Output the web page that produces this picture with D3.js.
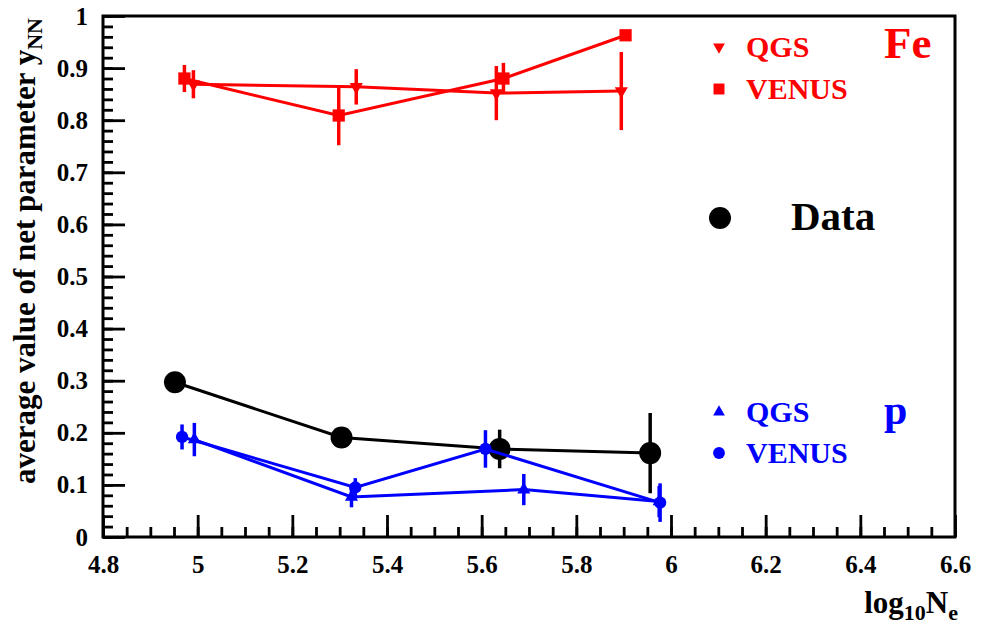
<!DOCTYPE html>
<html>
<head>
<meta charset="utf-8">
<script src="https://cdn.jsdelivr.net/npm/d3@7"></script>
<style>
  body { margin: 0; background: #fff; }
  text { font-family: "Liberation Serif", "DejaVu Serif", serif; font-weight: bold; }
</style>
</head>
<body>
<div id="chart"></div>
<script>
// measured data: log10(Ne) vs average y_NN
var dataX = [4.952, 5.304, 5.638, 5.956];
var dataY = [0.297, 0.191, 0.169, 0.161];
var dataErr = [0.012, 0.012, 0.037, 0.077];

var pQgsX = [4.993, 5.325, 5.689, 5.975];
var pQgsY = [0.187, 0.077, 0.091, 0.068];
var pQgsErr = [0.032, 0.02, 0.03, 0.03];

var pVenusX = [4.967, 5.333, 5.608, 5.977];
var pVenusY = [0.192, 0.095, 0.169, 0.066];
var pVenusErr = [0.024, 0.018, 0.036, 0.037];

var feQgsX = [4.991, 5.335, 5.631, 5.895];
var feQgsY = [0.869, 0.864, 0.852, 0.856];
var feQgsErr = [0.027, 0.034, 0.052, 0.075];

var feVenusX = [4.972, 5.298, 5.646, 5.904];
var feVenusY = [0.880, 0.809, 0.880, 0.963];
var feVenusErr = [0.026, 0.057, 0.03, 0.005];

var xTicks = [4.8, 5, 5.2, 5.4, 5.6, 5.8, 6, 6.2, 6.4, 6.6];
var yTicks = [0, 0.1, 0.2, 0.3, 0.4, 0.5, 0.6, 0.7, 0.8, 0.9, 1];

var width = 982,
  height = 628;
var padL = 103,
  padR = 955,
  padT = 16,
  padB = 537;

var svg = d3.select("#chart").append("svg").attr("width", width).attr("height", height);

var x = d3.scaleLinear().domain([4.8, 6.6]).range([padL, padR]);
var y = d3.scaleLinear().domain([0, 1]).range([padB, padT]);

function fmt(d) {
  return String(+d.toFixed(1));
}

// minor ticks
var xMinor = d3.range(4.8, 6.6001, 0.05);
var yMinor = d3.range(0, 1.0001, 0.02);

svg
  .append("g")
  .attr("transform", "translate(0," + padB + ")")
  .call(d3.axisBottom(x).tickValues(xMinor).tickSize(-10).tickFormat(""))
  .call(function (g) {
    g.select(".domain").remove();
  });
svg
  .append("g")
  .attr("transform", "translate(" + padL + ",0)")
  .call(d3.axisLeft(y).tickValues(yMinor).tickSize(-10).tickFormat(""))
  .call(function (g) {
    g.select(".domain").remove();
  });

var xAxis = svg
  .append("g")
  .attr("transform", "translate(0," + padB + ")")
  .call(d3.axisBottom(x).tickValues(xTicks).tickSize(-22).tickPadding(18).tickFormat(fmt));
xAxis.select(".domain").remove();
xAxis.selectAll("text").attr("font-size", 25).attr("fill", "#000");

var yAxis = svg
  .append("g")
  .attr("transform", "translate(" + padL + ",0)")
  .call(d3.axisLeft(y).tickValues(yTicks).tickSize(-22).tickPadding(15).tickFormat(fmt));
yAxis.select(".domain").remove();
yAxis.selectAll("text").attr("font-size", 25).attr("fill", "#000");

svg.selectAll(".tick line").attr("stroke", "#000").attr("stroke-width", 2.8);

// frame
svg
  .append("rect")
  .attr("x", padL)
  .attr("y", padT)
  .attr("width", padR - padL)
  .attr("height", padB - padT)
  .attr("fill", "none")
  .attr("stroke", "#000")
  .attr("stroke-width", 3);

function drawSeries(xs, ys, errs, color, symbol, size, rotate) {
  var pts = xs.map(function (d, i) {
    return { x: d, y: ys[i], e: errs[i] };
  });
  var g = svg.append("g");
  g.append("path")
    .datum(pts)
    .attr("fill", "none")
    .attr("stroke", color)
    .attr("stroke-width", 3)
    .attr(
      "d",
      d3
        .line()
        .x(function (d) {
          return x(d.x);
        })
        .y(function (d) {
          return y(d.y);
        })
    );
  g.selectAll(".err")
    .data(pts)
    .enter()
    .append("line")
    .attr("x1", function (d) {
      return x(d.x);
    })
    .attr("x2", function (d) {
      return x(d.x);
    })
    .attr("y1", function (d) {
      return y(d.y - d.e);
    })
    .attr("y2", function (d) {
      return y(d.y + d.e);
    })
    .attr("stroke", color)
    .attr("stroke-width", 3.5);
  g.selectAll(".mk")
    .data(pts)
    .enter()
    .append("path")
    .attr("d", d3.symbol().type(symbol).size(size))
    .attr("fill", color)
    .attr("transform", function (d) {
      return "translate(" + x(d.x) + "," + y(d.y) + ")" + (rotate ? " rotate(180)" : "");
    });
}

drawSeries(dataX, dataY, dataErr, "#000", d3.symbolCircle, 380, false);
drawSeries(pQgsX, pQgsY, pQgsErr, "#0000ff", d3.symbolTriangle, 75, false);
drawSeries(pVenusX, pVenusY, pVenusErr, "#0000ff", d3.symbolCircle, 120, false);
drawSeries(feQgsX, feQgsY, feQgsErr, "#ff0000", d3.symbolTriangle, 75, true);
drawSeries(feVenusX, feVenusY, feVenusErr, "#ff0000", d3.symbolSquare, 150, false);

// legends
function legendItem(cx, cy, symbol, size, rotate, color, label, fs) {
  svg
    .append("path")
    .attr("d", d3.symbol().type(symbol).size(size))
    .attr("fill", color)
    .attr("transform", "translate(" + cx + "," + cy + ")" + (rotate ? " rotate(180)" : ""));
  svg
    .append("text")
    .attr("x", cx + 27)
    .attr("y", cy + 10)
    .attr("font-size", fs)
    .attr("fill", color)
    .text(label);
}

legendItem(719, 47, d3.symbolTriangle, 60, true, "#ff0000", "QGS", 30);
legendItem(719, 89, d3.symbolSquare, 120, false, "#ff0000", "VENUS", 30);
svg.append("text").attr("x", 884).attr("y", 58).attr("font-size", 45).attr("fill", "#ff0000").text("Fe");

svg.append("circle").attr("cx", 720).attr("cy", 218).attr("r", 11).attr("fill", "#000");
svg.append("text").attr("x", 791).attr("y", 230).attr("font-size", 41).attr("fill", "#000").text("Data");

legendItem(719, 412, d3.symbolTriangle, 60, false, "#0000ff", "QGS", 30);
legendItem(719, 453, d3.symbolCircle, 110, false, "#0000ff", "VENUS", 30);
svg.append("text").attr("x", 884).attr("y", 424).attr("font-size", 42).attr("fill", "#0000ff").text("p");

// axis titles
var yTitle = svg
  .append("text")
  .attr("transform", "translate(35,18) rotate(-90)")
  .attr("text-anchor", "end")
  .attr("font-size", 31)
  .attr("fill", "#000");
yTitle.append("tspan").text("average value of net parameter y");
yTitle.append("tspan").attr("font-size", 22).attr("dy", 7).text("NN");

var xTitle = svg
  .append("text")
  .attr("x", 958)
  .attr("y", 613)
  .attr("text-anchor", "end")
  .attr("font-size", 31)
  .attr("fill", "#000");
xTitle.append("tspan").text("log");
xTitle.append("tspan").attr("font-size", 22).attr("dy", 7).text("10");
xTitle.append("tspan").attr("dy", -7).text("N");
xTitle.append("tspan").attr("font-size", 22).attr("dy", 7).text("e");
</script>
</body>
</html>
